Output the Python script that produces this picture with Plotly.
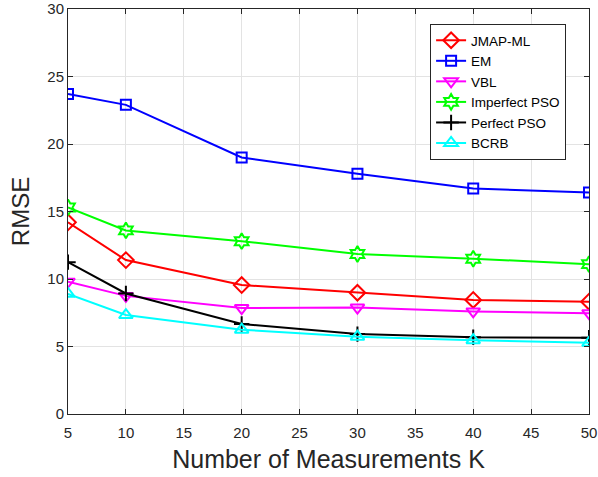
import plotly.graph_objects as go

K = [5, 10, 20, 30, 40, 50]
jmap_ml = [14.2, 11.4, 9.55, 8.98, 8.45, 8.32]
em = [23.7, 22.9, 19.0, 17.8, 16.7, 16.4]
vbl = [9.8, 8.75, 7.85, 7.88, 7.6, 7.47]
imperfect_pso = [15.3, 13.6, 12.8, 11.85, 11.5, 11.1]
perfect_pso = [11.25, 8.93, 6.67, 5.92, 5.68, 5.65]
bcrb = [8.9, 7.33, 6.25, 5.73, 5.47, 5.27]

series = [
    ("JMAP-ML", jmap_ml, "#ff0000", "diamond-open", 12),
    ("EM", em, "#0000ff", "square-open", 10),
    ("VBL", vbl, "#ff00ff", "triangle-down-open", 12),
    ("Imperfect PSO", imperfect_pso, "#00ff00", "hexagram-open", 12),
    ("Perfect PSO", perfect_pso, "#000000", "cross-thin-open", 11),
    ("BCRB", bcrb, "#00ffff", "triangle-up-open", 12),
]

fig = go.Figure()
for name, y, c, sym, sz in series:
    fig.add_trace(go.Scatter(
        x=K, y=y, name=name, mode="lines+markers",
        line=dict(color=c, width=2),
        marker=dict(symbol=sym, size=sz, color=c, line=dict(color=c, width=2)),
    ))

axis_common = dict(
    showgrid=True, gridcolor="#e3e3e3", gridwidth=1,
    showline=True, linecolor="#262626", linewidth=1, mirror="ticks",
    ticks="inside", ticklen=5, tickcolor="#262626",
    tickfont=dict(family="Liberation Sans, Arial", size=15, color="#262626"),
    zeroline=False, automargin=False,
)

fig.update_layout(
    width=598, height=477,
    margin=dict(l=68, r=9, t=9, b=63, autoexpand=False),
    paper_bgcolor="white", plot_bgcolor="white",
    font=dict(family="Liberation Sans, Arial", color="#262626"),
    xaxis=dict(range=[5, 50], tickvals=[5, 10, 15, 20, 25, 30, 35, 40, 45, 50],
               ticklabelstandoff=5,
               title=dict(text="Number of Measurements K", font=dict(size=25), standoff=10),
               **axis_common),
    yaxis=dict(range=[0, 30], tickvals=[0, 5, 10, 15, 20, 25, 30],
               title=dict(text="RMSE", font=dict(size=24), standoff=10),
               **axis_common),
    legend=dict(
        x=0.695, y=0.963, xanchor="left", yanchor="top",
        bgcolor="white", bordercolor="#262626", borderwidth=1,
        font=dict(family="Liberation Sans, Arial", size=13.5, color="#000000"),
        itemwidth=30, tracegroupgap=0,
    ),
    showlegend=True,
)

fig.write_html("out.html")
